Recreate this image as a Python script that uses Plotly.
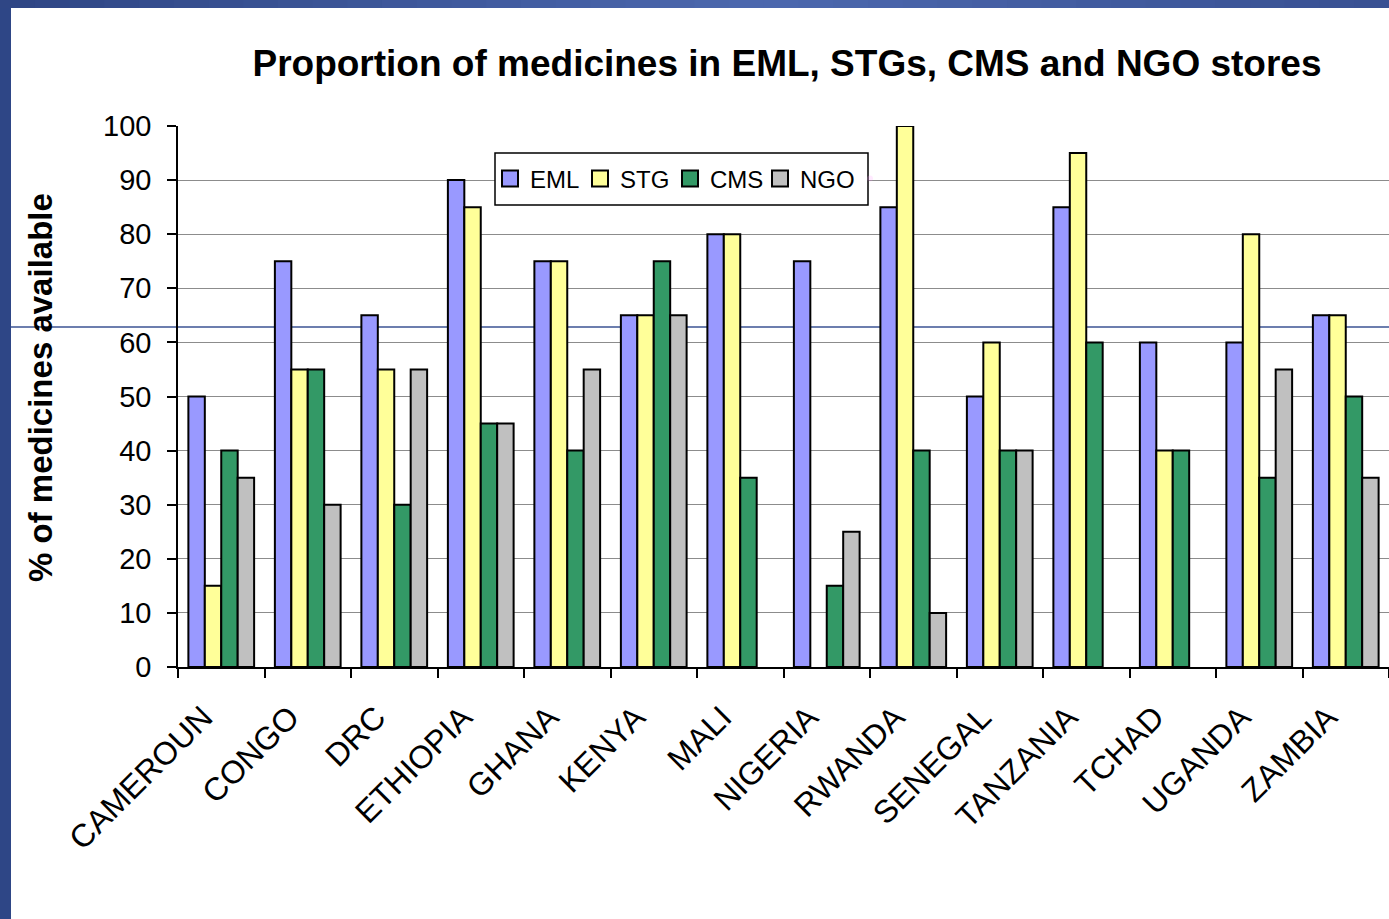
import plotly.graph_objects as go

# Countries and availability (%) of medicines by source list
countries = ["CAMEROUN", "CONGO", "DRC", "ETHIOPIA", "GHANA", "KENYA", "MALI",
             "NIGERIA", "RWANDA", "SENEGAL", "TANZANIA", "TCHAD", "UGANDA", "ZAMBIA"]
eml = [50, 75, 65, 90, 75, 65, 80, 75, 85, 50, 85, 60, 60, 65]
stg = [15, 55, 55, 85, 75, 65, 80, None, 100, 60, 95, 40, 80, 65]
cms = [40, 55, 30, 45, 40, 75, 35, 15, 40, 40, 60, 40, 35, 50]
ngo = [35, 30, 55, 45, 55, 65, None, 25, 10, 40, None, None, 55, 35]

y_ticks = [0, 10, 20, 30, 40, 50, 60, 70, 80, 90, 100]

series = [("EML", eml, "#9999FF"), ("STG", stg, "#FFFF99"),
          ("CMS", cms, "#339966"), ("NGO", ngo, "#C0C0C0")]

W, H = 1389, 919
L, R, T, B = 178, 1389, 126, 667
FONT = "Liberation Sans, Arial, sans-serif"


def px(x):
    return (x - L) / (R - L)


def py(y):
    return (B - y) / (B - T)


fig = go.Figure()
for name, vals, color in series:
    fig.add_trace(go.Bar(
        name=name, x=countries, y=vals, showlegend=False,
        marker=dict(color=color, line=dict(color="black", width=2)),
    ))
# legend keys drawn as outlined squares
for name, vals, color in series:
    fig.add_trace(go.Scatter(
        name=name, x=[None], y=[None], mode="markers",
        marker=dict(symbol="square", size=16, color=color,
                    line=dict(color="black", width=2)),
    ))
# blank trailing legend slot so the last label is not clipped
fig.add_trace(go.Scatter(name="", x=[None], y=[None], mode="markers",
                         marker=dict(opacity=0), hoverinfo="skip"))

shapes = []
# slide frame: left strip
shapes.append(dict(type="rect", xref="paper", yref="paper",
                   x0=px(0), x1=px(11), y0=py(H), y1=py(0),
                   fillcolor="#2E4686", line=dict(width=0), layer="above"))
# slide frame: top strip with a soft horizontal gradient
stops = [(0.0, (0x2E, 0x45, 0x84)), (0.55, (0x4C, 0x68, 0xAE)), (1.0, (0x38, 0x50, 0x92))]


def grad(t):
    for (t0, c0), (t1, c1) in zip(stops[:-1], stops[1:]):
        if t0 <= t <= t1:
            f = (t - t0) / (t1 - t0)
            return "rgb(%d,%d,%d)" % tuple(round(a + (b - a) * f) for a, b in zip(c0, c1))
    return "rgb(%d,%d,%d)" % stops[-1][1]


n = 40
for i in range(n):
    xa = i * W / n
    xb = (i + 1) * W / n + 1
    shapes.append(dict(type="rect", xref="paper", yref="paper",
                       x0=px(xa), x1=px(xb), y0=py(8), y1=py(0),
                       fillcolor=grad((i + 0.5) / n), line=dict(width=0), layer="above"))
# slide rule line behind the chart
shapes.append(dict(type="line", xref="paper", yref="paper",
                   x0=px(11), x1=px(W), y0=py(327), y1=py(327),
                   line=dict(color="#3B5393", width=1.5), layer="below"))
# legend frame
shapes.append(dict(type="rect", xref="paper", yref="paper",
                   x0=px(495), x1=px(868), y0=py(205), y1=py(153),
                   fillcolor="white", line=dict(color="black", width=1.5), layer="above"))

fig.update_layout(
    width=W, height=H,
    margin=dict(l=L, r=W - R, t=T, b=H - B),
    paper_bgcolor="white", plot_bgcolor="rgba(0,0,0,0)",
    font=dict(family=FONT, color="black"),
    barmode="group", bargap=0.24, bargroupgap=0,
    title=dict(text="<b>Proportion of medicines in EML, STGs, CMS and NGO stores</b>",
               x=787 / W, xref="container", xanchor="center",
               y=1 - 63 / H, yref="container", yanchor="middle",
               font=dict(family=FONT, size=37, color="black")),
    legend=dict(orientation="h", x=px(490), y=py(179), xanchor="left", yanchor="middle",
                bgcolor="rgba(0,0,0,0)", borderwidth=0,
                font=dict(family=FONT, size=24, color="black"),
                itemwidth=30, tracegroupgap=0,
                entrywidth=45, entrywidthmode="pixels"),
    xaxis=dict(type="category", tickangle=-45, ticks="outside", ticklen=9,
               tickcolor="black", tickwidth=1.5, tickson="boundaries",
               showline=True, linecolor="black", linewidth=1.5,
               ticklabelstandoff=17, ticklabelshift=-18,
               showgrid=False, tickfont=dict(family=FONT, size=32, color="black"),
               range=[-0.5, 13.5]),
    yaxis=dict(range=[0, 100], tickvals=y_ticks, ticks="outside", ticklen=9,
               tickcolor="black", tickwidth=1.5, ticklabelstandoff=10,
               showline=True, linecolor="black", linewidth=1.5,
               showgrid=True, gridcolor="#8C8C8C", gridwidth=1,
               zeroline=False, tickfont=dict(family=FONT, size=29, color="black")),
    shapes=shapes,
    annotations=[dict(text="<b>% of medicines available</b>", textangle=-90,
                      xref="paper", yref="paper", x=px(40), y=py(388),
                      xanchor="center", yanchor="middle", showarrow=False,
                      font=dict(family=FONT, size=33, color="black"))],
)

fig.write_html("out.html")
